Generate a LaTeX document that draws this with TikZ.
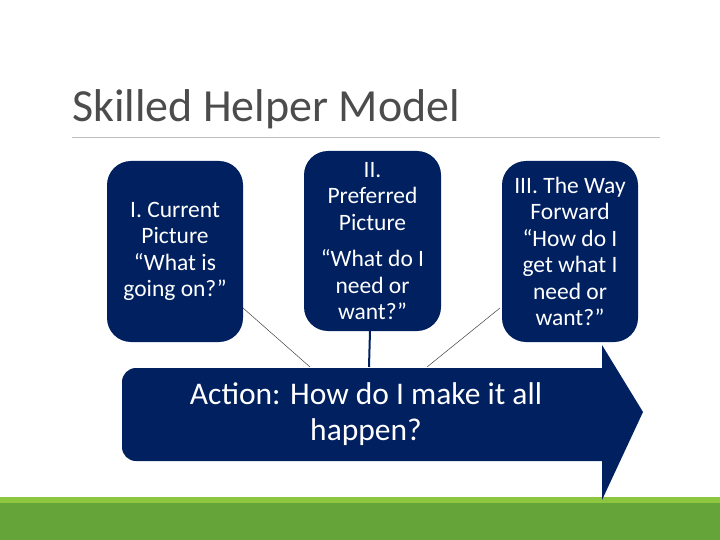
\documentclass[tikz,border=0pt]{standalone}
\usepackage{fontspec}
\setmainfont{Carlito}
\begin{document}
\begin{tikzpicture}[x=1pt,y=-1pt,
  box/.style={fill=navy,rounded corners=24pt,text=white,font=\fontsize{23.5}{26.5}\selectfont,align=center,inner sep=0pt},
  conn/.style={draw=black!75,line width=0.5pt}]
\definecolor{navy}{HTML}{002060}
\definecolor{grn}{HTML}{64A438}
\definecolor{lgrn}{HTML}{8DC63F}
\useasboundingbox (0,0) rectangle (720,540);
\fill[lgrn] (0,497) rectangle (720,503);
\fill[grn] (0,503) rectangle (720,540);
\node[anchor=base west,text=black!70,font=\fontsize{46}{46}\selectfont,inner sep=0pt] (title) at (72,122) {Skilled Helper Model};
\draw[black!25,line width=0.8pt] (72,137) coordinate (l1) -- (660,137) coordinate (l2);
% arrow
\fill[navy] (602,368) [rounded corners=14pt] -- (122,368) -- (122,461) [sharp corners] -- (602,461) -- cycle;
\fill[navy] (602,345) -- (643,412) -- (602,500) -- cycle;
\node[text=white,font=\fontsize{31.5}{36}\selectfont,align=center] (act) at (366,414) {Action: How do I make it all\\happen?};
\coordinate (c1) at (310,367);
\coordinate (c2) at (369,367);
\coordinate (c3) at (427,367);
\node[box,minimum width=136pt,minimum height=181pt] (b1) at (175,251.5) {I. Current\\Picture\\“What is\\going on?”};
\node[box,minimum width=137pt,minimum height=180pt] (b2) at (372.5,241) {II.\\Preferred\\Picture\\[10pt]“What do I\\need or\\want?”};
\node[box,minimum width=136pt,minimum height=181pt] (b3) at (570,251.5) {III. The Way\\Forward\\“How do I\\get what I\\need or\\want?”};
\draw[conn] (243,308) -- (c1);
\draw[conn] (500,308) -- (c3);
\draw[navy,line width=2pt] (370,331) -- (c2);
\end{tikzpicture}
\end{document}
